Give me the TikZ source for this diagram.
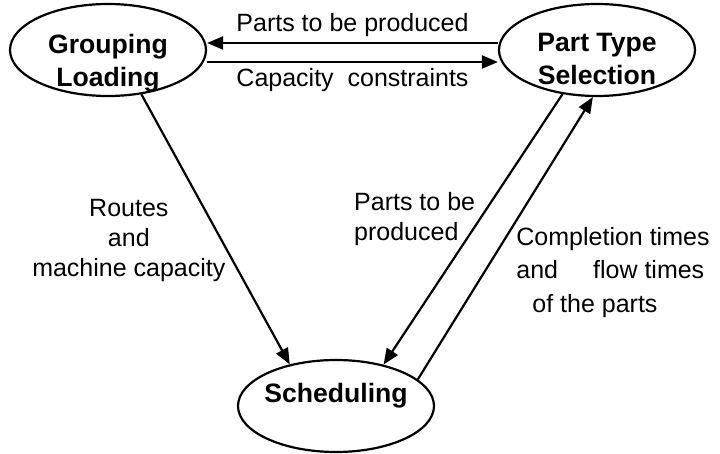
\documentclass[tikz,border=0pt]{standalone}
\usepackage{fontspec}
\setmainfont{Liberation Sans}
\usetikzlibrary{arrows.meta,positioning,shapes.geometric}

\begin{document}
\begin{tikzpicture}[
  blob/.style={
    draw,
    ellipse,
    line width=1.1pt,
    minimum width=98pt,
    minimum height=46pt,
    inner sep=0pt
  },
  btxt/.style={align=center, inner sep=0pt, font=\fontsize{13.3}{16.5}\selectfont\bfseries},
  arr/.style={-{Triangle[length=8pt,width=6.5pt]}, line width=1.1pt},
  lbl/.style={inner sep=2.5pt, font=\fontsize{12.5}{15}\selectfont},
  node distance=0pt
]
\useasboundingbox (0,0) rectangle (360pt,-227pt);
\node[blob] (grp) at (54pt,-25pt) {};
\node[blob, on grid, right=244.5pt of grp] (pts) {};
\node[blob, on grid, below right=178pt and 114pt of grp] (sched) {};

% text is set a little off the middle of each ellipse
\node[btxt] (grptxt) at ([yshift=-6.5pt]grp.center) {Grouping\\Loading};
\node[btxt] (ptstxt) at ([yshift=-4.5pt]pts.center) {Part Type\\Selection};
\node[btxt] (schedtxt) at ([yshift=5pt]sched.center) {Scheduling};

\draw[arr] ([yshift=3.5pt]pts.west) -- node[lbl, above] (lprod) {Parts to be produced} ([yshift=3.5pt]grp.east);
\draw[arr] ([yshift=-6pt]grp.east) -- node[lbl, below] (lcap) {Capacity\ \ constraints} ([yshift=-6pt]pts.west);
\draw[arr] (grp.-53) -- node[lbl, pos=0.54, anchor=east, align=center, xshift=5pt] (lroute) {Routes\\and\\machine capacity} (sched.138);
\draw[arr] (pts.-128) -- node[lbl, pos=0.46, anchor=east, align=left, xshift=0.5pt] (lparts) {Parts to be\\produced} (sched.41);
\draw[arr] (sched.18) -- node[lbl, pos=0.38, anchor=west, align=left, xshift=13pt, font=\fontsize{12.5}{16.75}\selectfont] (ltimes) {Completion times\\and\hspace{17.5pt}flow times\\\hspace{8pt}of the parts} (pts.-95);
\end{tikzpicture}
\end{document}
